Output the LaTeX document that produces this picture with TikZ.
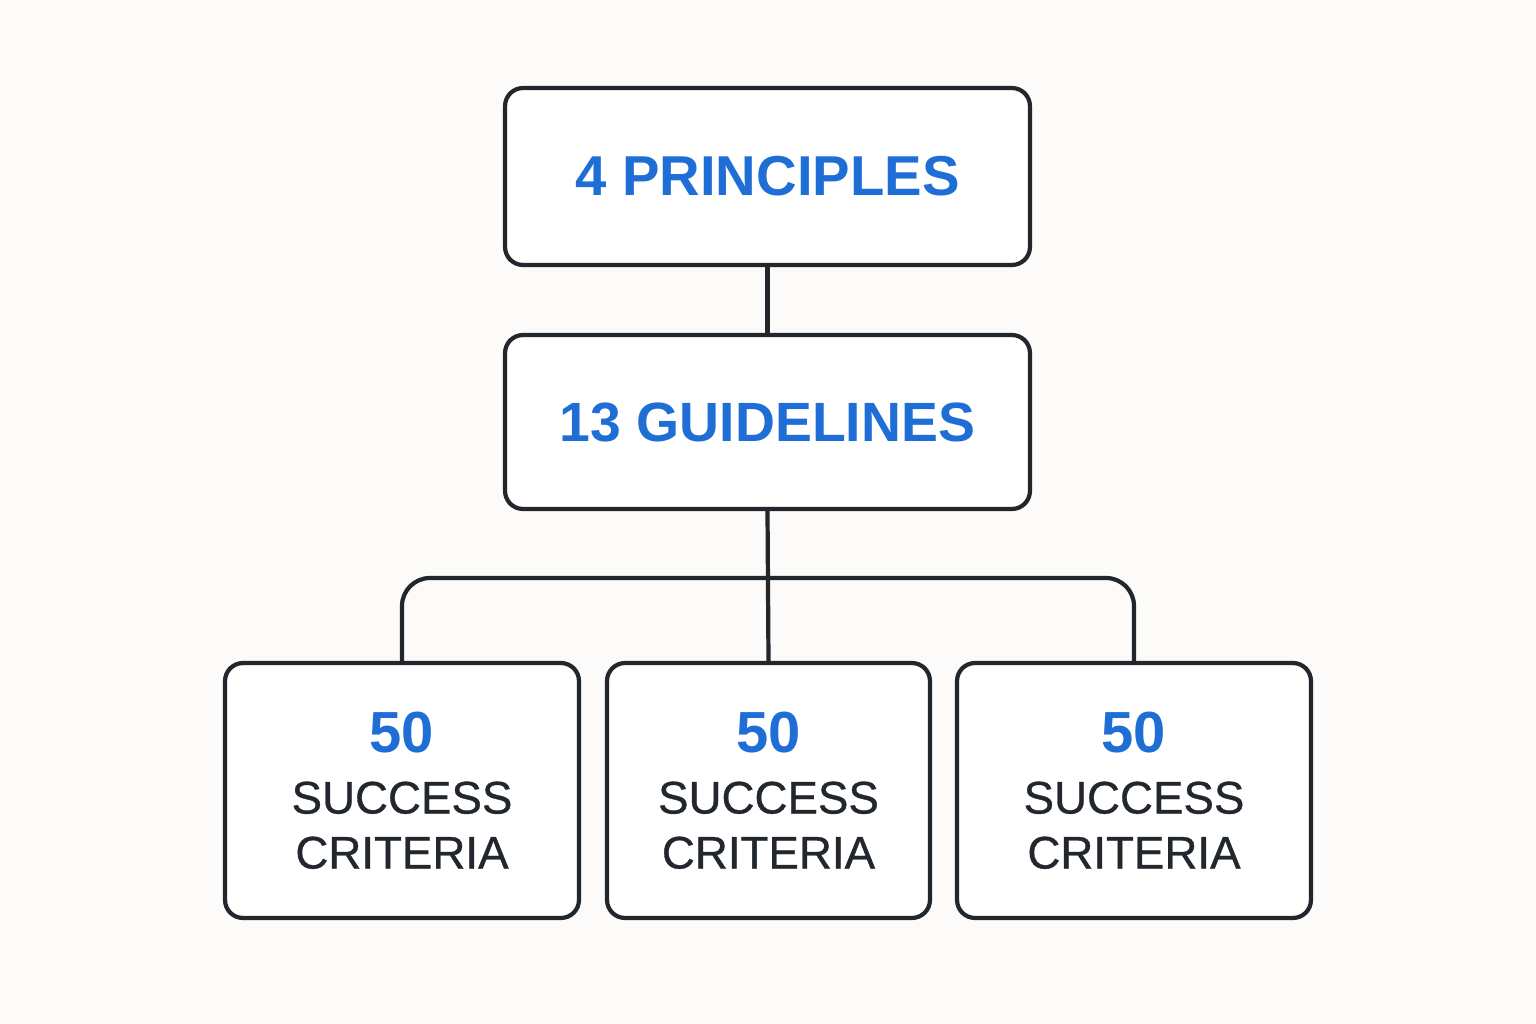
\documentclass[tikz,border=0pt]{standalone}
\usepackage{fontspec}
\setmainfont{Liberation Sans}
\newfontfamily\critfont{Liberation Sans}[BoldFont={Liberation Sans},BoldFeatures={FakeBold=0.7}]
\usepackage{xcolor}
\usepackage{tikz}
\definecolor{bgcol}{HTML}{FCFBF9}
\definecolor{numblue}{HTML}{1F6ED5}
\definecolor{inkdark}{HTML}{22272E}

\begin{document}
\begin{tikzpicture}[x=0.02cm,y=-0.02cm,
  box/.style={draw=inkdark,line width=2.4pt,rounded corners=0.36cm,fill=white,
    inner sep=0pt,minimum height=3.54cm,align=center},
  crit/.style={box,minimum height=5.1cm,text=inkdark,
    font=\fontsize{26}{31.3}\critfont\bfseries},
  wire/.style={draw=inkdark,line width=2.4pt},
  bigtxt/.style={text=numblue,font=\fontsize{32}{38}\selectfont\bfseries}]
\fill [bgcol] (0,0) rectangle (1536,1024);
\useasboundingbox (0,0) rectangle (1536,1024);
% hierarchy levels
\node [box,bigtxt,minimum width=10.5cm] (prin) at (767.5,176.5) {4 PRINCIPLES};
\node [box,bigtxt,minimum width=10.5cm,minimum height=3.48cm,
  font=\fontsize{31.5}{38}\selectfont\bfseries] (guide) at (767.5,422) {13 GUIDELINES};
\node [crit,minimum width=7.08cm] (critL) at (402,790.5)
  {{\color{numblue}\fontsize{33}{31.3}\rmfamily\bfseries 50}\\[3.4pt]SUCCESS\\CRITERIA};
\node [crit,minimum width=6.46cm] (critM) at (768.5,790.5)
  {{\color{numblue}\fontsize{33}{31.3}\rmfamily\bfseries 50}\\[3.4pt]SUCCESS\\CRITERIA};
\node [crit,minimum width=7.08cm] (critR) at (1134,790.5)
  {{\color{numblue}\fontsize{33}{31.3}\rmfamily\bfseries 50}\\[3.4pt]SUCCESS\\CRITERIA};
% connectors
\coordinate (bus) at (768,578);
\draw [wire] (prin.south) -- (guide.north);
\draw [wire] (guide.south) -- (critM.north);
\draw [wire,rounded corners=0.56cm] (critL.north) |- (bus) -| (critR.north);
\end{tikzpicture}
\end{document}
